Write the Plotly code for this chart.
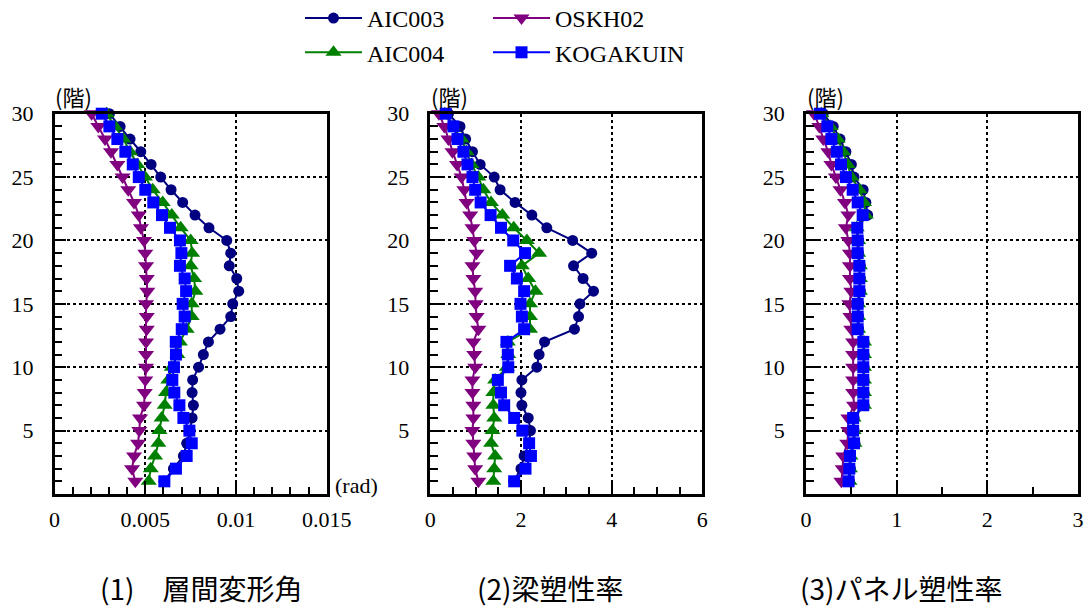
import plotly.graph_objects as go

# Floor levels (1F .. 30F)
floors = list(range(1, 31))

# (1) Story drift angle [rad], listed from 1F to 30F
drift_aic003 = [0.00603, 0.00655, 0.00710, 0.00728, 0.00747, 0.00758, 0.00765, 0.00758, 0.00761, 0.00794,
                0.00820, 0.00848, 0.00912, 0.00971, 0.00982, 0.01015, 0.01004, 0.00963, 0.00971, 0.00949,
                0.00851, 0.00774, 0.00706, 0.00642, 0.00585, 0.00532, 0.00475, 0.00416, 0.00361, 0.00302]
drift_aic004 = [0.00519, 0.00530, 0.00554, 0.00572, 0.00578, 0.00590, 0.00607, 0.00614, 0.00627, 0.00646,
                0.00677, 0.00691, 0.00728, 0.00756, 0.00756, 0.00776, 0.00769, 0.00750, 0.00758, 0.00750,
                0.00695, 0.00646, 0.00596, 0.00541, 0.00498, 0.00456, 0.00416, 0.00379, 0.00333, 0.00287]
drift_oskh02 = [0.00445, 0.00427, 0.00438, 0.00460, 0.00467, 0.00471, 0.00493, 0.00497, 0.00500, 0.00504,
                0.00504, 0.00504, 0.00508, 0.00508, 0.00504, 0.00511, 0.00508, 0.00504, 0.00500, 0.00493,
                0.00476, 0.00464, 0.00438, 0.00406, 0.00375, 0.00346, 0.00311, 0.00278, 0.00241, 0.00204]
drift_kogakuin = [0.00605, 0.00669, 0.00728, 0.00756, 0.00743, 0.00710, 0.00688, 0.00660, 0.00649, 0.00658,
                  0.00669, 0.00668, 0.00701, 0.00717, 0.00706, 0.00725, 0.00717, 0.00691, 0.00699, 0.00691,
                  0.00636, 0.00592, 0.00544, 0.00500, 0.00464, 0.00431, 0.00390, 0.00346, 0.00302, 0.00260]

# (2) Beam ductility factor
beam_aic003 = [1.84, 2.00, 2.07, 2.18, 2.21, 2.16, 2.02, 2.00, 2.02, 2.35,
               2.40, 2.52, 3.18, 3.27, 3.30, 3.60, 3.37, 3.16, 3.56, 3.14,
               2.57, 2.24, 1.87, 1.54, 1.41, 1.10, 0.93, 0.78, 0.655, 0.40]
beam_aic004 = [1.39, 1.41, 1.43, 1.34, 1.37, 1.41, 1.39, 1.39, 1.43, 1.69,
               1.72, 1.71, 2.20, 2.20, 2.20, 2.32, 2.16, 2.02, 2.40, 2.13,
               1.84, 1.59, 1.34, 1.17, 1.06, 0.91, 0.80, 0.69, 0.49, 0.32]
beam_oskh02 = [1.06, 0.99, 0.97, 0.95, 0.93, 0.95, 0.95, 0.93, 0.93, 0.99,
               0.97, 0.95, 1.06, 1.02, 1.00, 0.99, 0.95, 0.93, 1.02, 0.97,
               0.93, 0.88, 0.80, 0.75, 0.69, 0.59, 0.49, 0.40, 0.31, 0.19]
beam_kogakuin = [1.85, 2.10, 2.22, 2.18, 2.03, 1.85, 1.63, 1.56, 1.49, 1.72,
                 1.71, 1.68, 2.07, 2.02, 1.99, 2.07, 1.91, 1.76, 2.09, 1.83,
                 1.56, 1.33, 1.11, 0.99, 0.93, 0.82, 0.73, 0.60, 0.51, 0.34]

# (3) Panel-zone ductility factor
panel_aic003 = [0.48, 0.49, 0.49, 0.54, 0.53, 0.53, 0.64, 0.64, 0.64, 0.64,
                0.64, 0.64, 0.58, 0.58, 0.58, 0.60, 0.60, 0.60, 0.58, 0.58,
                0.56, 0.68, 0.66, 0.63, 0.53, 0.50, 0.44, 0.375, 0.30, 0.19]
panel_aic004 = [0.48, 0.485, 0.49, 0.535, 0.525, 0.525, 0.64, 0.64, 0.64, 0.64,
                0.64, 0.64, 0.575, 0.575, 0.575, 0.595, 0.595, 0.595, 0.575, 0.575,
                0.56, 0.66, 0.64, 0.59, 0.50, 0.46, 0.41, 0.35, 0.27, 0.17]
panel_oskh02 = [0.39, 0.405, 0.41, 0.455, 0.467, 0.467, 0.53, 0.52, 0.52, 0.52,
                0.52, 0.52, 0.50, 0.49, 0.478, 0.50, 0.485, 0.485, 0.485, 0.467,
                0.44, 0.467, 0.43, 0.38, 0.33, 0.28, 0.246, 0.19, 0.147, 0.088]
panel_kogakuin = [0.47, 0.478, 0.485, 0.53, 0.52, 0.52, 0.632, 0.632, 0.632, 0.632,
                  0.632, 0.632, 0.57, 0.57, 0.57, 0.588, 0.588, 0.588, 0.57, 0.57,
                  0.566, 0.625, 0.57, 0.515, 0.44, 0.386, 0.34, 0.28, 0.235, 0.154]

series_names = ["AIC003", "AIC004", "OSKH02", "KOGAKUIN"]
panels = [
    [drift_aic003, drift_aic004, drift_oskh02, drift_kogakuin],
    [beam_aic003, beam_aic004, beam_oskh02, beam_kogakuin],
    [panel_aic003, panel_aic004, panel_oskh02, panel_kogakuin],
]
captions = ["(1)\u3000層間変形角", "(2)梁塑性率", "(3)パネル塑性率"]

W, H = 1088, 608
SERIF = "Liberation Serif, DejaVu Serif, serif"
CJK = "Noto Sans CJK JP"

styles = {
    "AIC003": dict(color="#000080", symbol="circle", size=11, legend="legend"),
    "AIC004": dict(color="#008000", symbol="triangle-up", size=14, legend="legend"),
    "OSKH02": dict(color="#800080", symbol="triangle-down", size=14, legend="legend2"),
    "KOGAKUIN": dict(color="#0000FF", symbol="square", size=12, legend="legend2"),
}

# pixel geometry of the three plot frames
x_px = [(54.6, 326.7), (430.3, 702.3), (806.0, 1078.0)]
y_px = (113.7, 494.0)
x_ranges = [(0, 0.015), (0, 6), (0, 3)]
x_ticks = [
    ([0, 0.005, 0.01, 0.015], ["0", "0.005", "0.01", "0.015"], 0.001),
    ([0, 2, 4, 6], ["0", "2", "4", "6"], 0.5),
    ([0, 1, 2, 3], ["0", "1", "2", "3"], 0.5),
]
caption_left = [98, 475, 798]

fig = go.Figure()

for p, series in enumerate(panels):
    xa = "x" if p == 0 else f"x{p + 1}"
    ya = "y" if p == 0 else f"y{p + 1}"
    for name, vals in zip(series_names, series):
        st = styles[name]
        fig.add_trace(go.Scatter(
            x=vals, y=floors, mode="lines+markers", name=name,
            xaxis=xa, yaxis=ya, legend=st["legend"],
            showlegend=(p == 0), cliponaxis=False,
            line=dict(color=st["color"], width=2),
            marker=dict(symbol=st["symbol"], size=st["size"], color=st["color"],
                        line=dict(width=0)),
        ))

common = dict(
    showline=True, mirror=True, linewidth=2.5, linecolor="black",
    showgrid=True, griddash="dot", gridcolor="black", gridwidth=1.5,
    zeroline=False, ticks="inside", tickcolor="black", tickwidth=2,
    tickfont=dict(family=SERIF, size=22, color="black"),
)

layout = dict(
    width=W, height=H, margin=dict(l=0, r=0, t=0, b=0, autoexpand=False),
    paper_bgcolor="white", plot_bgcolor="white",
    font=dict(family=SERIF, color="black"),
)

ydom = [1 - y_px[1] / H, 1 - y_px[0] / H]
annotations = []
for p in range(3):
    sx = "" if p == 0 else str(p + 1)
    tv, tt, mdt = x_ticks[p]
    layout[f"xaxis{sx}"] = dict(
        common, domain=[x_px[p][0] / W, x_px[p][1] / W], range=list(x_ranges[p]),
        anchor=f"y{sx}", tickvals=tv, ticktext=tt, ticklen=13, ticklabelstandoff=4,
        minor=dict(dtick=mdt, ticks="inside", ticklen=7, tickwidth=1.5,
                   tickcolor="black", showgrid=False),
    )
    layout[f"yaxis{sx}"] = dict(
        common, domain=ydom, range=[0, 30], anchor=f"x{sx}",
        tickvals=[5, 10, 15, 20, 25, 30], ticklen=12, ticklabelstandoff=14,
        minor=dict(dtick=1, ticks="inside", ticklen=8, tickwidth=1.5,
                   tickcolor="black", showgrid=False),
    )
    # "(階)" unit label above each frame
    annotations.append(dict(
        text="(階)", xref="paper", yref="paper",
        x=(x_px[p][0] + 19) / W, y=1 - 96 / H, showarrow=False,
        xanchor="center", yanchor="middle",
        font=dict(family=CJK, size=22, color="black"),
    ))
    # caption under each panel
    annotations.append(dict(
        text=captions[p], xref="paper", yref="paper",
        x=caption_left[p] / W, y=1 - 588 / H, showarrow=False,
        xanchor="left", yanchor="middle",
        font=dict(family=CJK, size=28, color="black"),
    ))

annotations.append(dict(
    text="(rad)", xref="paper", yref="paper", x=333 / W, y=1 - 485 / H,
    showarrow=False, xanchor="left", yanchor="middle",
    font=dict(family=SERIF, size=22, color="black"),
))

legend_common = dict(
    orientation="v", bgcolor="rgba(0,0,0,0)", borderwidth=0,
    font=dict(family=SERIF, size=24, color="black"),
    xanchor="left", yanchor="top", tracegroupgap=0, itemsizing="trace",
    itemwidth=57,
)
layout["legend"] = dict(legend_common, x=300 / W, y=1 + 4 / H)
layout["legend2"] = dict(legend_common, x=488 / W, y=1 + 4 / H)
layout["annotations"] = annotations

fig.update_layout(**layout)
fig.write_html("out.html")
